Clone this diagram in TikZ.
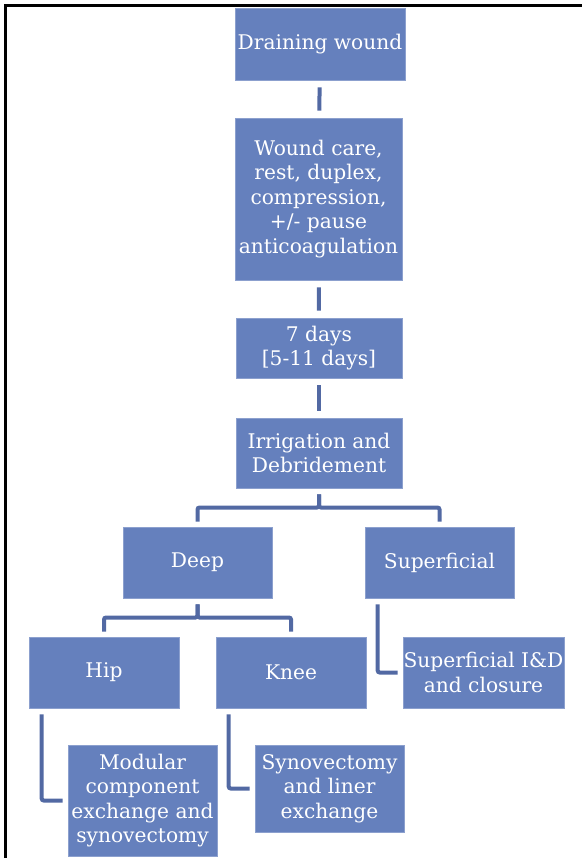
\documentclass[tikz,border=0pt]{standalone}
\usepackage{fontspec}
\setmainfont{DejaVu Serif}
\usepackage{tikz}
\usetikzlibrary{calc}
\definecolor{cbox} {RGB}{101,128,189}
\definecolor{cedge}{RGB}{140,160,206}
\definecolor{clink}{RGB}{ 82,105,163}
\tikzset{
  stepbox/.style={rectangle, draw=cedge, line width=0.6pt, fill=cbox,
                  text=white, align=center, inner sep=0pt,
                  font=\fontsize{20.2}{24.5}\selectfont,
                  minimum width=#1},
  stepbox/.default=150pt,
  link/.style={line width=4pt, color=clink, rounded corners=2pt,
               shorten <=6pt, shorten >=5pt},
}

\begin{document}
\begin{tikzpicture}[x=1pt, y=-1pt]
  \useasboundingbox (0,0) rectangle (581,858);
  % ── Frame ──────────────────────────────────────────────────────────────────
  \draw[line width=3pt] (5.5,860) -- (5.5,5.5) -- (583,5.5);

  % ── Nodes ──────────────────────────────────────────────────────────────────
  \node[stepbox=170pt, minimum height=72pt]  at (320,  44)   (drain) {Draining wound};
  \node[stepbox=167pt, minimum height=162pt] at (318.5,199)  (care)  {Wound care,\\rest, duplex,\\compression,\\+/- pause\\anticoagulation};
  \node[stepbox=166pt, minimum height=60pt]  at (319, 348)   (days)  {7 days\\{[5-11 days]}};
  \node[stepbox=166pt, minimum height=70pt]  at (319, 453)   (irr)   {Irrigation and\\Debridement};
  \node[stepbox=149pt, minimum height=71pt]  at (197.5,562.5)(deep)  {Deep};
  \node[stepbox=149pt, minimum height=71pt]  at (439.5,562.5)(sup)   {Superficial};
  \node[stepbox=150pt, minimum height=71pt]  at (104, 672.5) (hip)   {Hip};
  \node[stepbox=150pt, minimum height=71pt]  at (291, 672.5) (knee)  {Knee};
  \node[stepbox=161pt, minimum height=71pt]  at (483.5,672.5)(supid) {Superficial I\&D\\and closure};
  \node[stepbox=149pt, minimum height=111pt] at (142.5,800.5)(mod)   {Modular\\component\\exchange and\\synovectomy};
  \node[stepbox=149pt, minimum height=87pt]  at (329.5,788.5)(syn)   {Synovectomy\\and liner\\exchange};

  % ── Connectors ─────────────────────────────────────────────────────────────
  \draw[link, shorten <=7pt, shorten >=7pt] (drain) -- (care);
  \draw[link, shorten <=7pt, shorten >=7pt] (care)  -- (days);
  \draw[link, shorten <=7pt, shorten >=7pt] (days)  -- (irr);
  \draw[link] (irr.south)  -- ($(irr.south)!.5!(irr.south|-deep.north)$)  -| (deep.north);
  \draw[link] (irr.south)  -- ($(irr.south)!.5!(irr.south|-sup.north)$)   -| (sup.north);
  \draw[link] (deep.south) -- ($(deep.south)!.5!(deep.south|-hip.north)$) -| (hip.north);
  \draw[link] (deep.south) -- ($(deep.south)!.5!(deep.south|-knee.north)$)-| (knee.north);
  \draw[link] ([xshift=13pt]sup.south west)  |- (supid.west);
  \draw[link] ([xshift=13pt]hip.south west)  |- (mod.west);
  \draw[link] ([xshift=13pt]knee.south west) |- (syn.west);
\end{tikzpicture}
\end{document}
